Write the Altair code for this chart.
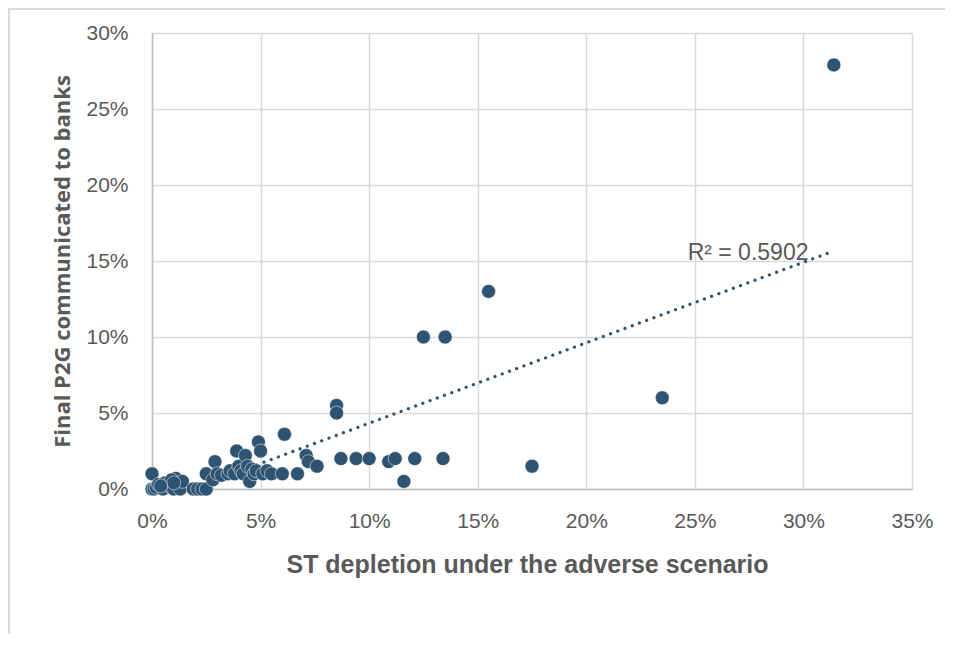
import altair as alt
import pandas as pd

# ST depletion under the adverse scenario (fraction)
st_depletion = [
    0.000, 0.001, 0.002, 0.000, 0.003, 0.005, 0.006, 0.008, 0.010, 0.011,
    0.012, 0.013, 0.014, 0.009, 0.010, 0.004, 0.019, 0.021, 0.023, 0.025,
    0.025, 0.028, 0.029, 0.030, 0.032, 0.035, 0.036, 0.038, 0.039, 0.040,
    0.041, 0.042, 0.043, 0.044, 0.045, 0.046, 0.047, 0.048, 0.049, 0.050,
    0.051, 0.053, 0.055, 0.060, 0.061, 0.067, 0.071, 0.072, 0.076, 0.085,
    0.085, 0.087, 0.094, 0.100, 0.109, 0.112, 0.116, 0.121, 0.125, 0.134,
    0.135, 0.155, 0.175, 0.235, 0.314,
]
# Final P2G communicated to banks (fraction)
final_p2g = [
    0.000, 0.000, 0.001, 0.010, 0.003, 0.000, 0.004, 0.002, 0.000, 0.007,
    0.003, 0.000, 0.005, 0.006, 0.004, 0.002, 0.000, 0.000, 0.000, 0.000,
    0.010, 0.006, 0.018, 0.010, 0.009, 0.010, 0.012, 0.010, 0.025, 0.015,
    0.012, 0.010, 0.022, 0.015, 0.005, 0.013, 0.010, 0.012, 0.031, 0.025,
    0.010, 0.012, 0.010, 0.010, 0.036, 0.010, 0.022, 0.018, 0.015, 0.055,
    0.050, 0.020, 0.020, 0.020, 0.018, 0.020, 0.005, 0.020, 0.100, 0.020,
    0.100, 0.130, 0.015, 0.060, 0.279,
]
# Linear trendline as drawn in the reference (start where it meets 0%, end at last point)
trend_x = [0.0183, 0.312]
trend_y = [0.0, 0.1555]

x_ticks = [0, 0.05, 0.10, 0.15, 0.20, 0.25, 0.30, 0.35]
y_ticks = [0, 0.05, 0.10, 0.15, 0.20, 0.25, 0.30]
r2_label = ["R\u00b2 = 0.5902"]
r2_pos_x = [0.2745]
r2_pos_y = [0.155]

df = pd.DataFrame({"st": st_depletion, "p2g": final_p2g})
tr = pd.DataFrame({"st": trend_x, "p2g": trend_y})
lab = pd.DataFrame({"x": r2_pos_x, "y": r2_pos_y, "t": r2_label})

DOT = "#2E5472"
GRID = "#D9D9D9"
TXT = "#595959"

xscale = alt.Scale(domain=[0, 0.35], nice=False, zero=True)
yscale = alt.Scale(domain=[0, 0.30], nice=False, zero=True)

x_enc = alt.X(
    "st:Q", scale=xscale,
    axis=alt.Axis(
        values=x_ticks, format=".0%", title="ST depletion under the adverse scenario",
        titleFont="Liberation Sans", titleFontSize=25, titleFontWeight="bold",
        titleColor=TXT, titleX=375, titleY=83, titleBaseline="alphabetic", titleAlign="center",
        labelFont="Liberation Sans", labelFontSize=21, labelColor=TXT,
        labelPadding=21, ticks=False, domainColor="#BFBFBF", domainWidth=1.5,
        gridColor=GRID, gridWidth=1.5, labelFlush=False,
    ),
)
y_enc = alt.Y(
    "p2g:Q", scale=yscale,
    axis=alt.Axis(
        values=y_ticks, format=".0%", title="Final P2G communicated to banks",
        titleFont="Open Sans", titleFontSize=22, titleFontWeight="bold",
        titleColor=TXT, titleX=-90, titleY=228, titleAngle=-90,
        titleAlign="center", titleBaseline="middle",
        labelFont="Liberation Sans", labelFontSize=21, labelColor=TXT,
        labelPadding=24, ticks=False, domainColor="#BFBFBF", domainWidth=1.5,
        gridColor=GRID, gridWidth=1.5, labelFlush=False,
    ),
)

points = alt.Chart(df).mark_circle(
    size=195, color=DOT, opacity=1, stroke="white", strokeWidth=0.5
).encode(x=x_enc, y=y_enc)

trend = alt.Chart(tr).mark_line(
    color=DOT, strokeWidth=3.2, strokeDash=[0.1, 7.6], strokeCap="round", clip=True
).encode(x="st:Q", y="p2g:Q")

label = alt.Chart(lab).mark_text(
    font="Liberation Sans", fontSize=23, color=TXT, align="center", baseline="middle"
).encode(x="x:Q", y="y:Q", text="t:N")

border_top = alt.Chart(df).mark_rule(color=GRID, strokeWidth=1.5).encode(
    x=alt.value(-144), x2=alt.value(900), y=alt.value(-24)
)
border_left = alt.Chart(df).mark_rule(color=GRID, strokeWidth=1.5).encode(
    x=alt.value(-143), y=alt.value(-24), y2=alt.value(700)
)

chart = alt.layer(border_top, border_left, trend, points, label).properties(
    width=760, height=456,
    autosize=alt.AutoSizeParams(type="none"),
    padding={"left": 144, "top": 25, "right": 33, "bottom": 145},
).configure_view(stroke=None).configure(background="white")

chart.save("out.html", embed_options={"renderer": "svg", "actions": False})
